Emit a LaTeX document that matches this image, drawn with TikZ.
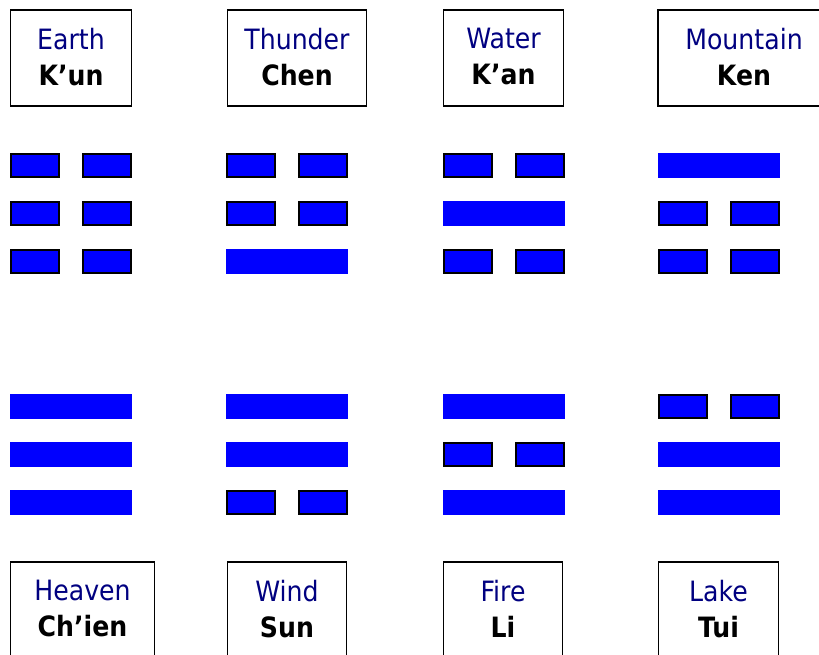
\documentclass[tikz,border=0pt]{standalone}
\usepackage{fontspec}
\setmainfont{DejaVu Sans}[FakeStretch=0.9]
\usetikzlibrary{positioning}
\definecolor{namecol}{RGB}{0,0,128}
\definecolor{barblue}{RGB}{0,0,255}
\tikzset{
  namebox/.style={draw, line width=1.2pt, minimum height=96pt, inner sep=0pt,
    align=center, font=\fontsize{28}{36}\selectfont, text depth=3pt},
  yin/.style={fill=barblue, draw=black, line width=2pt},
  yang/.style={fill=barblue},
}
\newcommand{\trigname}[2]{\textcolor{namecol}{#1}\\\textbf{#2}}
% one line of a trigram: x, top y, 1 = yang / 0 = yin
\newcommand{\trigline}[3]{%
  \ifnum#3=1
    \fill[yang] (#1,#2) rectangle ++(122,25);
  \else
    \draw[yin] (#1+1,#2+1) rectangle ++(48,23);
    \draw[yin] (#1+73,#2+1) rectangle ++(48,23);
  \fi}

\begin{document}
\begin{tikzpicture}[x=1pt,y=-1pt]
\useasboundingbox (0,0) rectangle (819,655);
\clip (0,0) rectangle (819,655);
% Top: names
\node[namebox, minimum width=121pt] (earth) at (71,58) {\trigname{Earth}{K’un}};
\node[namebox, minimum width=139pt] (thunder) at (297,58) {\trigname{Thunder}{Chen}};
\node[namebox, minimum width=120pt] (water) at (503.5,58) {\trigname{Water}{K’an}};
\node[namebox, minimum width=172pt] (mountain) at (744,58) {\trigname{Mountain}{Ken}};
% Bottom: names
\node[namebox, minimum width=144pt] (heaven) at (82.5,610) {\trigname{Heaven}{Ch’ien}};
\node[namebox, minimum width=119pt] (wind) at (287,610) {\trigname{Wind}{Sun}};
\node[namebox, minimum width=119pt] (fire) at (503,610) {\trigname{Fire}{Li}};
\node[namebox, minimum width=120pt] (lake) at (718.5,610) {\trigname{Lake}{Tui}};
% trigrams, lines listed top to bottom
\foreach \x/\d in {10/{0,0,0},226/{0,0,1},443/{0,1,0},658/{1,0,0}}{
\foreach \v [count=\i from 0] in \d {
\trigline{\x}{153+48*\i}{\v}
}}
\foreach \x/\d in {10/{1,1,1},226/{1,1,0},443/{1,0,1},658/{0,1,1}}{
\foreach \v [count=\i from 0] in \d {
\trigline{\x}{394+48*\i}{\v}
}}
\end{tikzpicture}
\end{document}
